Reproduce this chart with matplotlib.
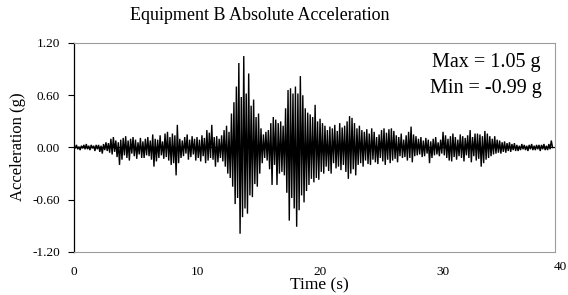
import numpy as np
import matplotlib
matplotlib.use("Agg")
import matplotlib.pyplot as plt
import matplotlib.transforms as mtransforms

# sample step of the peak list (s)
dt = 0.1

# successive peaks of the record (g), 20 per 2 s
acc = [
    0.02, -0.01, 0.03, -0.02, 0.01, -0.03, 0.02, -0.01, 0.03, -0.02, 0.04, -0.02, 0.02, -0.03, 0.03, -0.01, 0.02, -0.04, 0.03, -0.02,
    0.03, -0.05, 0.02, -0.07, 0.04, -0.03, 0.06, -0.04, 0.05, -0.06, 0.10, -0.08, 0.12, -0.05, 0.08, -0.11, 0.06, -0.20, 0.09, -0.14,
    0.11, -0.09, 0.13, -0.12, 0.08, -0.15, 0.10, -0.07, 0.12, -0.10, 0.09, -0.13, 0.06, -0.08, 0.11, -0.12, 0.07, -0.12, 0.10, -0.09,
    0.12, -0.10, 0.08, -0.14, 0.15, -0.22, 0.10, -0.16, 0.09, -0.12, 0.14, -0.09, 0.07, -0.13, 0.16, -0.11, 0.18, -0.15, 0.12, -0.20,
    0.16, -0.18, 0.14, -0.32, 0.26, -0.18, 0.10, -0.12, 0.08, -0.10, 0.12, -0.07, 0.15, -0.14, 0.09, -0.11, 0.13, -0.08, 0.10, -0.15,
    0.12, -0.12, 0.09, -0.16, 0.14, -0.10, 0.11, -0.18, 0.20, -0.15, 0.17, -0.12, 0.26, -0.14, 0.12, -0.22, 0.13, -0.17, 0.10, -0.12,
    0.14, -0.16, 0.20, -0.22, 0.25, -0.30, 0.18, -0.35, 0.39, -0.45, 0.52, -0.65, 0.70, -0.58, 0.97, -0.99, 0.58, -0.80, 1.05, -0.70,
    0.62, -0.76, 0.85, -0.55, 0.48, -0.57, 0.55, -0.42, 0.35, -0.45, 0.39, -0.30, 0.22, -0.18, 0.15, -0.12, 0.18, -0.15, 0.20, -0.25,
    0.28, -0.43, 0.35, -0.20, 0.32, -0.43, 0.28, -0.30, 0.30, -0.28, 0.25, -0.32, 0.45, -0.52, 0.66, -0.84, 0.68, -0.58, 0.62, -0.70,
    0.70, -0.91, 0.62, -0.72, 0.82, -0.55, 0.60, -0.63, 0.45, -0.50, 0.40, -0.43, 0.38, -0.36, 0.35, -0.40, 0.49, -0.35, 0.30, -0.37,
    0.33, -0.28, 0.28, -0.30, 0.25, -0.22, 0.20, -0.27, 0.24, -0.30, 0.22, -0.18, 0.26, -0.24, 0.19, -0.22, 0.28, -0.26, 0.23, -0.20,
    0.25, -0.28, 0.30, -0.36, 0.36, -0.30, 0.34, -0.25, 0.28, -0.32, 0.22, -0.20, 0.25, -0.18, 0.20, -0.22, 0.18, -0.15, 0.21, -0.19,
    0.16, -0.20, 0.22, -0.14, 0.18, -0.17, 0.12, -0.19, 0.15, -0.12, 0.20, -0.16, 0.22, -0.20, 0.17, -0.14, 0.21, -0.18, 0.22, -0.15,
    0.19, -0.13, 0.14, -0.17, 0.12, -0.10, 0.16, -0.12, 0.09, -0.11, 0.14, -0.15, 0.18, -0.12, 0.24, -0.17, 0.15, -0.10, 0.13, -0.09,
    0.10, -0.08, 0.12, -0.11, 0.08, -0.10, 0.11, -0.07, 0.09, -0.18, 0.07, -0.12, 0.10, -0.09, 0.12, -0.08, 0.06, -0.10, 0.09, -0.07,
    0.18, -0.09, 0.14, -0.12, 0.10, -0.15, 0.13, -0.16, 0.16, -0.11, 0.12, -0.14, 0.09, -0.10, 0.15, -0.12, 0.13, -0.16, 0.11, -0.09,
    0.14, -0.12, 0.20, -0.17, 0.12, -0.10, 0.16, -0.15, 0.16, -0.13, 0.15, -0.22, 0.13, -0.18, 0.19, -0.14, 0.16, -0.12, 0.13, -0.10,
    0.10, -0.08, 0.13, -0.07, 0.09, -0.06, 0.08, -0.07, 0.06, -0.05, 0.07, -0.06, 0.05, -0.04, 0.06, -0.05, 0.04, -0.03, 0.05, -0.04,
    0.03, -0.04, 0.02, -0.03, 0.04, -0.02, 0.03, -0.03, 0.02, -0.04, 0.03, -0.02, 0.04, -0.03, 0.02, -0.03, 0.03, -0.02, 0.03, -0.04,
    0.03, -0.02, 0.04, -0.03, 0.02, -0.03, 0.04, -0.02, 0.08, 0.00,
]
t = np.arange(len(acc)) * dt

yticks = [-1.20, -0.60, 0.00, 0.60, 1.20]
xticks = [0, 10, 20, 30, 40]
acc_max, acc_min = 1.05, -0.99

plt.rcParams["font.family"] = ["Liberation Serif", "DejaVu Serif"]

W, H = 568, 295
fig = plt.figure(figsize=(W / 100, H / 100), dpi=100)
ax = fig.add_axes([74 / W, 1 - 252 / H, (555 - 74) / W, (252 - 43) / H])

ax.plot(t, acc, color="black", lw=1.0, solid_joinstyle="miter")
ax.axhline(0, color="black", lw=0.9)

ax.set_xlim(0, 39.1)
ax.set_ylim(-1.2, 1.2)
ax.set_yticks(yticks)
ax.set_yticklabels(["%.2f" % v for v in yticks])
ax.set_xticks(xticks[:-1])
ax.set_xticklabels([str(v) for v in xticks[:-1]])
# last label sits just past the plot frame, as in the original
trans = mtransforms.blended_transform_factory(ax.transData, ax.transAxes)
ax.text(xticks[-1] - 0.45, -0.045, str(xticks[-1]), transform=trans, ha="center",
        va="top", fontsize=9.5, clip_on=False)

ax.tick_params(axis="y", direction="out", length=4, width=0.8, pad=6, labelsize=9.5)
ax.tick_params(axis="x", length=0, pad=10, labelsize=9.5)

for s in ["top", "right", "bottom"]:
    ax.spines[s].set_color("#9c9c9c")
    ax.spines[s].set_linewidth(0.8)
ax.spines["left"].set_color("black")
ax.spines["left"].set_linewidth(0.9)

fig.text(260 / W, 1 - 16 / H, "Equipment B Absolute Acceleration",
         ha="center", va="center", fontsize=13)
fig.text(319 / W, 1 - 285 / H, "Time (s)", ha="center", va="center", fontsize=12.5)
fig.text(18 / W, 1 - 147 / H, "Acceleration (g)", ha="center", va="center",
         rotation=90, fontsize=12)

fig.text(432 / W, 1 - 62 / H, "Max = %.2f g" % acc_max, ha="left", va="center", fontsize=14.5)
fig.text(430 / W, 1 - 89 / H, "Min = %.2f g" % acc_min, ha="left", va="center", fontsize=14.5)

fig.savefig("out.png", dpi=100)
